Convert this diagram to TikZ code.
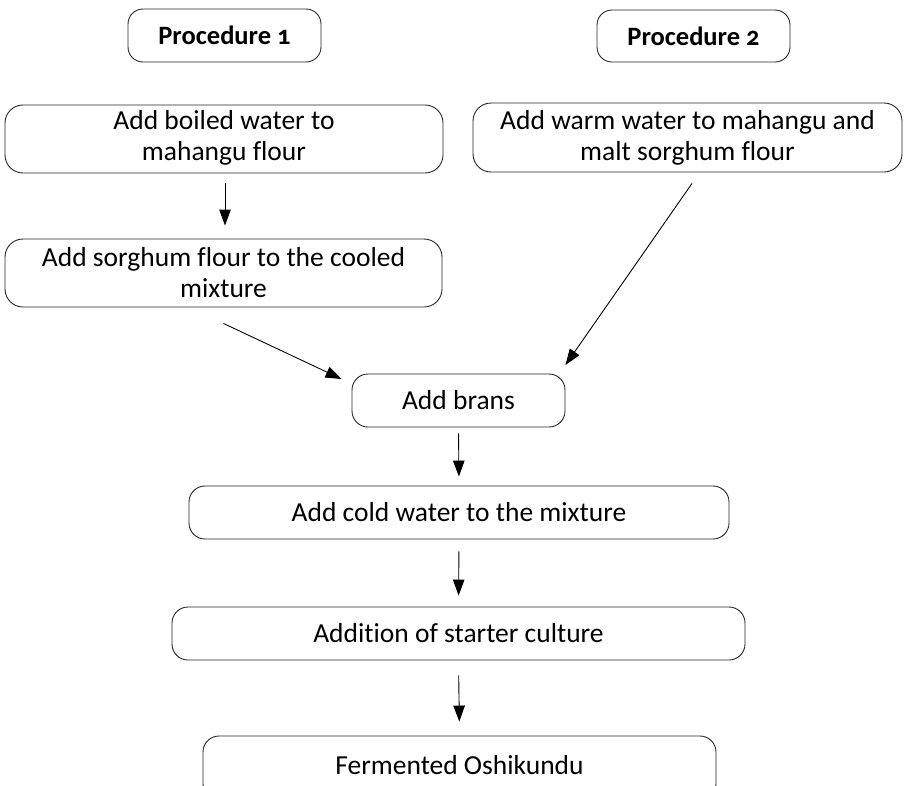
\documentclass[tikz,border=0pt]{standalone}
\usepackage{fontspec}
\setmainfont{Carlito}[Numbers=OldStyle, Ligatures=NoCommon]
\usetikzlibrary{arrows.meta,calc}
\tikzset{
  box/.style={draw=black!85, line width=0.9pt, rounded corners=18pt, align=center,
    inner sep=0pt, font=\fontsize{27.5}{31}\selectfont},
  head/.style={box, rounded corners=15pt, font=\fontsize{26.5}{31}\selectfont\bfseries},
  arr/.style={draw=black, line width=0.9pt, -{Triangle[length=16pt,width=11.5pt]}}
}
\begin{document}
\begin{tikzpicture}[x=1pt,y=-1pt]
\useasboundingbox (0,0) rectangle (912,785);
\clip (0,0) rectangle (912,785);
\node[head, minimum width=193pt, minimum height=53pt] (p1) at (224.5,35.5) {Procedure 1};
\node[head, minimum width=193pt, minimum height=52pt] (p2) at (693.5,36) {Procedure 2};
\node[box, minimum width=438pt, minimum height=68pt] (a) at (224,139) {\raisebox{-3pt}{\begin{tabular}{@{}c@{}}Add boiled water to\\mahangu flour\end{tabular}}};
\node[box, minimum width=437pt, minimum height=68pt] (b) at (223.5,273) {Add sorghum flour to the cooled\\mixture};
\node[box, minimum width=429pt, minimum height=69pt] (c) at (687.5,137.5) {Add warm water to mahangu and\\malt sorghum flour};
\node[box, rounded corners=16pt, minimum width=213pt, minimum height=53pt] (br) at (458.5,400.5) {Add brans};
\node[box, rounded corners=16pt, minimum width=540pt, minimum height=53pt] (cold) at (459,512.5) {Add cold water to the mixture};
\node[box, rounded corners=16pt, minimum width=573pt, minimum height=53pt] (st) at (458.5,633.5) {Addition of starter culture};
\node[box, rounded corners=16pt, minimum width=513pt, minimum height=64pt] (fe) at (459.5,768) {\raisebox{-6pt}[0pt][0pt]{Fermented Oshikundu}};
\draw[arr, shorten <=10pt, shorten >=13pt] (a.south -| 225,0) -- (b.north -| 225,0);
\draw[arr] ($(b.south)+(0,16)$) -- ($(br.west)+(-10,-21.5)$);
\draw[arr] ($(c.south)+(4.5,11)$) -- ($(br.east)+(0,-35.5)$);
\draw[arr, shorten <=6pt, shorten >=9pt] (br.south) -- (cold.north);
\draw[arr, shorten <=12pt, shorten >=11pt] (cold.south) -- (st.north);
\draw[arr, shorten <=15pt, shorten >=14pt] (st.south) -- (fe.north);
\end{tikzpicture}
\end{document}
